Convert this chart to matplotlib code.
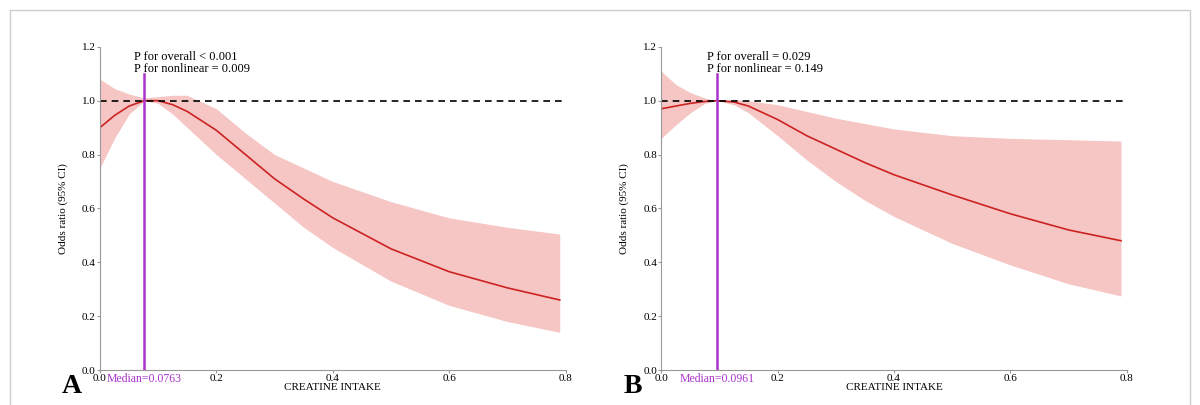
import matplotlib
matplotlib.use("Agg")
import matplotlib.pyplot as plt
from matplotlib.patches import Rectangle

plt.rcParams['font.family'] = ['Liberation Serif', 'DejaVu Serif']

xa = [0, 0.025, 0.05, 0.0763, 0.1, 0.125, 0.15, 0.2, 0.25, 0.3, 0.35, 0.4, 0.5, 0.6, 0.7, 0.79]
est_a = [0.90, 0.945, 0.98, 1.0, 1.0, 0.985, 0.96, 0.89, 0.80, 0.71, 0.635, 0.565, 0.45, 0.365, 0.305, 0.26]
low_a = [0.75, 0.86, 0.95, 1.0, 0.99, 0.95, 0.90, 0.80, 0.71, 0.62, 0.53, 0.455, 0.33, 0.24, 0.18, 0.14]
up_a = [1.08, 1.045, 1.025, 1.01, 1.015, 1.02, 1.02, 0.97, 0.88, 0.80, 0.75, 0.70, 0.625, 0.565, 0.53, 0.505]
med_a = 0.0763
p_a = ["P for overall < 0.001", "P for nonlinear = 0.009"]

xb = [0, 0.025, 0.05, 0.075, 0.0961, 0.125, 0.15, 0.2, 0.25, 0.3, 0.35, 0.4, 0.5, 0.6, 0.7, 0.79]
est_b = [0.97, 0.98, 0.99, 0.997, 1.0, 0.995, 0.98, 0.93, 0.87, 0.82, 0.77, 0.725, 0.65, 0.58, 0.52, 0.48]
low_b = [0.86, 0.91, 0.955, 0.99, 1.0, 0.985, 0.955, 0.87, 0.78, 0.70, 0.63, 0.57, 0.47, 0.39, 0.32, 0.275]
up_b = [1.11, 1.06, 1.03, 1.01, 1.0, 1.005, 1.0, 0.985, 0.96, 0.935, 0.915, 0.895, 0.87, 0.86, 0.855, 0.85]
med_b = 0.0961
p_b = ["P for overall = 0.029", "P for nonlinear = 0.149"]

xticks = [0.0, 0.2, 0.4, 0.6, 0.8]
yticks = [0.0, 0.2, 0.4, 0.6, 0.8, 1.0, 1.2]

fig = plt.figure(figsize=(12, 4.05), dpi=100)
fig.patches.append(Rectangle((0.008, -0.1), 0.984, 1.075, transform=fig.transFigure,
                             fill=False, edgecolor='#cccccc', lw=1))

def panel(left, x, est, low, up, med, ptxt, letter):
    ax = fig.add_axes([left, 0.0864, 0.388, 0.798])
    ax.fill_between(x, low, up, color='#f5c6c4', lw=0)
    ax.plot(x, est, color='#cc2222', lw=1.2)
    ax.axhline(1.0, color='black', ls=(0, (4, 3)), lw=1.2)
    ax.plot([med, med], [0, 1.1], color='#aa33cc', lw=1.8)
    ax.text(med - 0.018, 1.185, ptxt[0] + "\n" + ptxt[1], fontsize=9, va='top', ha='left', linespacing=1.05)
    ax.set_xlim(0, 0.8)
    ax.set_ylim(0, 1.2)
    ax.set_xticks(xticks)
    ax.set_xticklabels([f"{t:.1f}" for t in xticks], fontsize=8)
    ax.set_yticks(yticks)
    ax.set_yticklabels([f"{t:.1f}" for t in yticks], fontsize=8)
    ax.tick_params(length=2, pad=1, color='#999999')
    for s in ['top', 'right']:
        ax.spines[s].set_visible(False)
    for s in ['left', 'bottom']:
        ax.spines[s].set_color('#999999')
    ax.set_xlabel("CREATINE INTAKE", fontsize=8, labelpad=0)
    ax.set_ylabel("Odds ratio (95% CI)", fontsize=8, labelpad=10)
    ax.text(med, -0.01, f"Median={med}", color='#aa33cc', fontsize=8.5, ha='center', va='top')
    ax.text(-0.065, -0.06, letter, fontsize=20, fontweight='bold', ha='left', va='center')

panel(0.0833, xa, est_a, low_a, up_a, med_a, p_a, "A")
panel(0.551, xb, est_b, low_b, up_b, med_b, p_b, "B")
fig.savefig("out.png", dpi=100)
